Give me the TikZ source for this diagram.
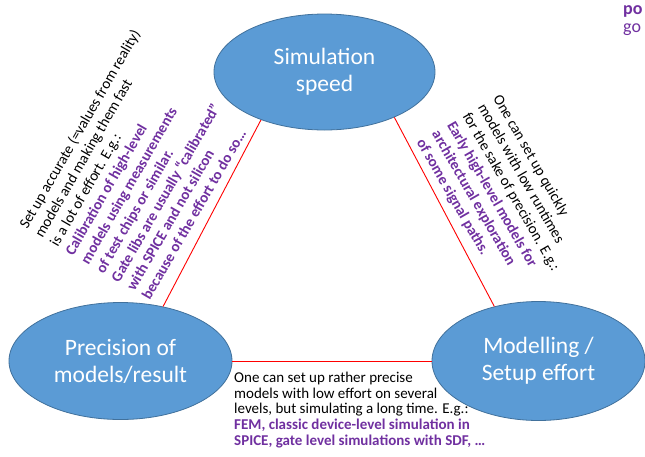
\documentclass[tikz,border=0pt]{standalone}
\usepackage{fontspec}
\setmainfont{Carlito}
\usetikzlibrary{shapes.geometric}
\definecolor{ovalblue}{HTML}{5B9BD5}
\definecolor{ovaledge}{HTML}{41719C}
\definecolor{notepurple}{HTML}{7030A0}
\newcommand\exmpl[1]{{\color{notepurple}\bfseries #1}}

\begin{document}
\begin{tikzpicture}[x=1pt,y=-1pt,
  oval/.style={ellipse, fill=ovalblue, draw=ovaledge, line width=0.8pt,
    inner sep=0pt, text=white, align=center,
    font=\fontsize{23.5}{27}\selectfont},
  tradeoff/.style={draw=red, line width=0.9pt},
  note/.style={inner sep=0pt, align=left, anchor=north west,
    font=\fontsize{15}{17.7}\selectfont},
  bottomnote/.style={note, font=\fontsize{15}{15.6}\selectfont},
  fragment/.style={inner sep=0pt, anchor=base west, text=notepurple,
    font=\fontsize{18}{20}\selectfont}]

\useasboundingbox (0,0) rectangle (645,456);

% the three corners of the trade-off triangle
\node[oval, minimum width=221pt, minimum height=116pt] (speed) at (324.5,72) {Simulation\\speed};
\node[oval, minimum width=223pt, minimum height=117pt] (precision) at (120.5,361) {Precision of\\models/result};
\node[oval, minimum width=213pt, minimum height=119pt] (effort) at (538.5,361) {Modelling /\\Setup effort};

% triangle edges
\draw[tradeoff] (speed.217) -- (precision.52);
\draw[tradeoff] (speed.327) -- (effort.129);
\draw[tradeoff] (precision.east) -- (effort.west);

% edge annotations
\node[note, rotate=60] (leftnote) at (17.5,224.5) {%
  Set up accurate (=values from reality)\\
  models and making them fast\\
  is a lot of effort. E.g.:\\
  \exmpl{Calibration of high-level}\\
  \exmpl{models using measurements}\\
  \exmpl{of test chips or similar.}\\
  \exmpl{Gate libs are usually “calibrated”}\\
  \exmpl{with SPICE and not silicon}\\
  \exmpl{because of the effort to do so…}};

\node[note, rotate=-60] (rightnote) at (502,93) {%
  One can set up quickly\\
  models with low runtimes\\
  for the sake of precision. E.g.:\\
  \exmpl{Early high-level models for}\\
  \exmpl{architectural exploration}\\
  \exmpl{of some signal paths.}};

\node[bottomnote] (bottomnote) at (234,372) {%
  One can set up rather precise\\
  models with low effort on several\\
  levels, but simulating a long time. E.g.:\\
  \exmpl{FEM, classic device-level simulation in}\\
  \exmpl{SPICE, gate level simulations with SDF, …}};

% text running in from the right edge
\node[fragment, font=\fontsize{18}{20}\selectfont\bfseries] (pofrag) at (623,14) {po};
\node[fragment] (gofrag) at (623,32.5) {go};
\end{tikzpicture}
\end{document}
